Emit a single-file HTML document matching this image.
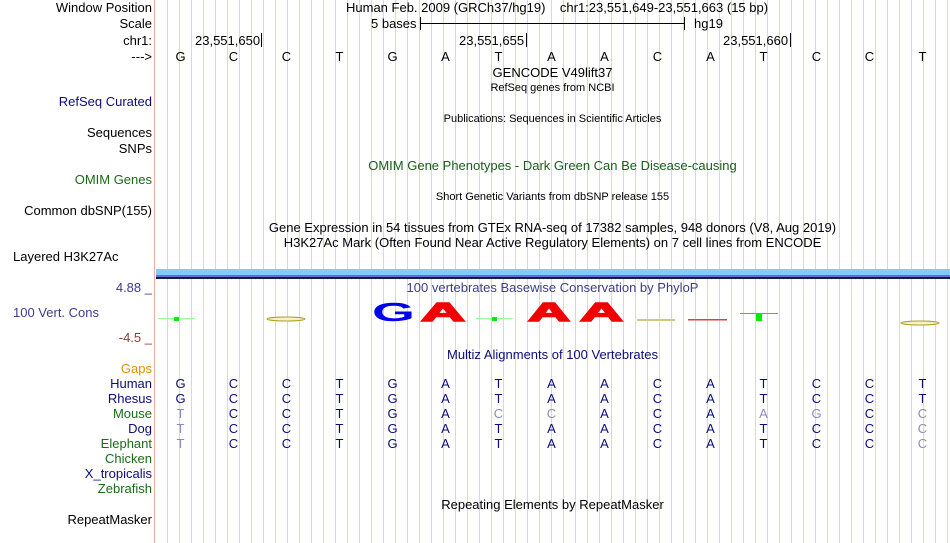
<!DOCTYPE html>
<html><head><meta charset="utf-8"><style>
body{margin:0;width:950px;height:543px;overflow:hidden;background:#fff;font-family:"Liberation Sans",sans-serif;font-size:13px;position:relative}
.grid{position:absolute;left:155px;top:0;width:795px;height:543px;background:repeating-linear-gradient(90deg,transparent 0,transparent 11px,#d8d4f0 11px,#d8d4f0 12px);background-position:1px 0}
.red{position:absolute;left:154px;top:0;width:1px;height:543px;background:#f4a8a8}
.l{position:absolute;right:798px;white-space:nowrap;line-height:14px}
.t{position:absolute;white-space:nowrap;line-height:14px}
.c{position:absolute;left:155px;width:795px;text-align:center;line-height:14px;white-space:nowrap}
.s{font-size:11px}
.row{position:absolute;left:154px;width:795px;display:flex;line-height:14px}
.row span{width:53px;text-align:center}
.nv{color:#0c0c78}.g{color:#8c8cb8}
.tk{position:absolute;width:1px;height:14px;background:#000}
</style></head><body>
<div class="grid"></div><div class="red"></div>

<div class="l" style="top:1px">Window Position</div>
<div class="l" style="top:17px">Scale</div>
<div class="l" style="top:34px">chr1:</div>
<div class="l" style="top:50px">---&gt;</div>
<div class="t" style="left:346px;top:1px">Human Feb. 2009 (GRCh37/hg19)&nbsp;&nbsp;&nbsp; chr1:23,551,649-23,551,663 (15 bp)</div>
<div class="t" style="left:371px;top:17px">5 bases</div>
<div style="position:absolute;left:420px;top:17px;width:1px;height:13px;background:#000"></div>
<div style="position:absolute;left:420px;top:23px;width:265px;height:1px;background:#000"></div>
<div style="position:absolute;left:684px;top:17px;width:1px;height:13px;background:#000"></div>
<div class="t" style="left:694px;top:17px">hg19</div>
<div class="t" style="left:195px;top:34px">23,551,650</div><div class="tk" style="left:261px;top:33px"></div>
<div class="t" style="left:459px;top:34px">23,551,655</div><div class="tk" style="left:526px;top:33px"></div>
<div class="t" style="left:723px;top:34px">23,551,660</div><div class="tk" style="left:790px;top:33px"></div>
<div class="row" style="top:50px"><span>G</span><span>C</span><span>C</span><span>T</span><span>G</span><span>A</span><span>T</span><span>A</span><span>A</span><span>C</span><span>A</span><span>T</span><span>C</span><span>C</span><span>T</span></div>
<div class="c" style="top:66px">GENCODE V49lift37</div>
<div class="c s" style="top:81px">RefSeq genes from NCBI</div>
<div class="l nv" style="top:95px">RefSeq Curated</div>
<div class="c s" style="top:112px">Publications: Sequences in Scientific Articles</div>
<div class="l" style="top:126px">Sequences</div>
<div class="l" style="top:142px">SNPs</div>
<div class="c" style="top:159px;color:#1a5c1a">OMIM Gene Phenotypes - Dark Green Can Be Disease-causing</div>
<div class="l" style="top:173px;color:#1a6a1a">OMIM Genes</div>
<div class="c s" style="top:190px">Short Genetic Variants from dbSNP release 155</div>
<div class="l" style="top:204px">Common dbSNP(155)</div>
<div class="c" style="top:221px">Gene Expression in 54 tissues from GTEx RNA-seq of 17382 samples, 948 donors (V8, Aug 2019)</div>
<div class="c" style="top:236px">H3K27Ac Mark (Often Found Near Active Regulatory Elements) on 7 cell lines from ENCODE</div>
<div class="t" style="left:13px;top:250px">Layered H3K27Ac</div>

<div style="position:absolute;left:156px;top:269px;width:794px;height:6px;background:#80ccf8"></div>
<div style="position:absolute;left:156px;top:275px;width:794px;height:2px;background:#6a6ad0"></div>
<div style="position:absolute;left:156px;top:277px;width:794px;height:2px;background:#1a1a40"></div>

<div class="l" style="top:281px;color:#3c3c8c">4.88 _</div>
<div class="t" style="left:13px;top:306px;color:#3c3c8c">100 Vert. Cons</div>
<div class="l" style="top:331px;color:#8c3c3c">-4.5 _</div>
<div class="c" style="top:281px;color:#3c3c8c">100 vertebrates Basewise Conservation by PhyloP</div>
<svg style="position:absolute;left:0;top:0" width="950" height="543">
<g font-family="Liberation Sans" font-size="26" font-weight="bold">
<text x="372" y="321" fill="#0000f0" textLength="43" lengthAdjust="spacingAndGlyphs">G</text>
<g stroke="#f00000" stroke-width="1.5">
<text x="421" y="321" fill="#f00000" textLength="44" lengthAdjust="spacingAndGlyphs">A</text>
<text x="528" y="321" fill="#f00000" textLength="42" lengthAdjust="spacingAndGlyphs">A</text>
<text x="580" y="321" fill="#f00000" textLength="43" lengthAdjust="spacingAndGlyphs">A</text>
</g>
</g>
<line x1="158" y1="318.5" x2="195" y2="318.5" stroke="#9f9" stroke-width="1"/><rect x="174" y="317" width="5" height="4" fill="#0e0"/>
<ellipse cx="286" cy="319" rx="19" ry="2" fill="#f4f0d0" stroke="#b0a020"/>
<line x1="476" y1="318.5" x2="513" y2="318.5" stroke="#9f9"/><rect x="492" y="317" width="5" height="4" fill="#0e0"/>
<rect x="637" y="319" width="38" height="2" fill="#d0c880"/>
<rect x="688" y="319" width="39" height="1.5" fill="#e04040"/>
<line x1="740" y1="313.5" x2="778" y2="313.5" stroke="#0e0"/><rect x="756" y="313" width="6" height="8" fill="#0e0"/>
<ellipse cx="920" cy="323" rx="19" ry="2" fill="#f4f0d0" stroke="#b0a020"/>
</svg>

<div class="c" style="top:348px;color:#0c0c78">Multiz Alignments of 100 Vertebrates</div>
<div class="l" style="top:362px;color:#e09000">Gaps</div>
<div class="l nv" style="top:377px">Human</div>
<div class="l nv" style="top:392px">Rhesus</div>
<div class="l" style="top:407px;color:#1a6a1a">Mouse</div>
<div class="l nv" style="top:422px">Dog</div>
<div class="l" style="top:437px;color:#1a6a1a">Elephant</div>
<div class="l" style="top:452px;color:#1a6a1a">Chicken</div>
<div class="l nv" style="top:467px">X_tropicalis</div>
<div class="l" style="top:482px;color:#1a6a1a">Zebrafish</div>
<div class="row nv" style="top:377px"><span>G</span><span>C</span><span>C</span><span>T</span><span>G</span><span>A</span><span>T</span><span>A</span><span>A</span><span>C</span><span>A</span><span>T</span><span>C</span><span>C</span><span>T</span></div>
<div class="row nv" style="top:392px"><span>G</span><span>C</span><span>C</span><span>T</span><span>G</span><span>A</span><span>T</span><span>A</span><span>A</span><span>C</span><span>A</span><span>T</span><span>C</span><span>C</span><span>T</span></div>
<div class="row nv" style="top:407px"><span class="g">T</span><span>C</span><span>C</span><span>T</span><span>G</span><span>A</span><span class="g">C</span><span class="g">C</span><span>A</span><span>C</span><span>A</span><span class="g">A</span><span class="g">G</span><span>C</span><span class="g">C</span></div>
<div class="row nv" style="top:422px"><span class="g">T</span><span>C</span><span>C</span><span>T</span><span>G</span><span>A</span><span>T</span><span>A</span><span>A</span><span>C</span><span>A</span><span>T</span><span>C</span><span>C</span><span class="g">C</span></div>
<div class="row nv" style="top:437px"><span class="g">T</span><span>C</span><span>C</span><span>T</span><span>G</span><span>A</span><span>T</span><span>A</span><span>A</span><span>C</span><span>A</span><span>T</span><span>C</span><span>C</span><span class="g">C</span></div>
<div class="c" style="top:498px">Repeating Elements by RepeatMasker</div>
<div class="l" style="top:513px">RepeatMasker</div>
</body></html>
